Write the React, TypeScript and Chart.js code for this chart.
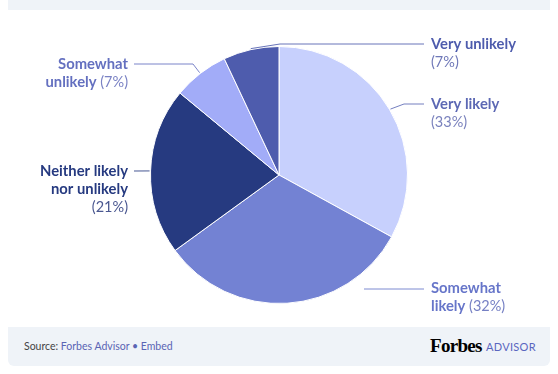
import React, { useEffect, useRef } from "react";
import { Chart, registerables } from "chart.js";

Chart.register(...registerables);

const categories = ["Very likely", "Somewhat likely", "Neither likely nor unlikely", "Somewhat unlikely", "Very unlikely"];
const values = [33, 32, 21, 7, 7];
const sliceColors = ["#c7d0fd", "#7382d3", "#263a80", "#a2acf8", "#4e5cad"];
const labelLines = [["Very likely"], ["Somewhat", "likely"], ["Neither likely", "nor unlikely"], ["Somewhat", "unlikely"], ["Very unlikely"]];
const labelColors = ["#5c68b4", "#6675c9", "#263a80", "#6470c0", "#4e5cad"];
const pctColors = ["#7a82bd", "#7680c4", "#4a5790", "#7a82c4", "#6f78b8"];

const FONT = "Lato, 'Open Sans', sans-serif";

// label layout: side, anchor x, first line y, leader line waypoints
const layout = [
  { side: "right", x: 431, y: 104, path: [[404, 104], [424, 104]], inline: false },
  { side: "right", x: 431, y: 288, path: [[364, 289], [424, 289]], inline: true, noEdge: true },
  { side: "left", x: 128, y: 171, path: [[134, 171]], inline: false },
  { side: "left", x: 128, y: 64, path: [[193, 64], [134, 64]], inline: true },
  { side: "right", x: 431, y: 44, path: [[280, 44], [424, 44]], inline: false },
];

const labelPlugin = {
  id: "pieLabels",
  afterDatasetsDraw(chart: any) {
    const ctx = chart.ctx;
    const meta = chart.getDatasetMeta(0);
    ctx.save();
    meta.data.forEach((arc: any, i: number) => {
      const L = layout[i];
      const mid = (arc.startAngle + arc.endAngle) / 2;
      const r = arc.outerRadius + 1;
      const ex = arc.x + Math.cos(mid) * r;
      const ey = arc.y + Math.sin(mid) * r;
      ctx.beginPath();
      ctx.strokeStyle = labelColors[i];
      ctx.globalAlpha = 0.85;
      ctx.lineWidth = 1;
      if (L.noEdge) {
        ctx.moveTo(L.path[0][0], L.path[0][1]);
      } else {
        ctx.moveTo(ex, ey);
      }
      L.path.forEach((p) => ctx.lineTo(p[0], p[1]));
      ctx.stroke();
      ctx.globalAlpha = 1;
      ctx.textBaseline = "middle";
      const lines = labelLines[i];
      const pct = "(" + values[i] + "%)";
      const bold = "bold 14.8px " + FONT;
      const reg = "14.5px " + FONT;
      const lh = 18;
      ctx.textAlign = "left";
      lines.forEach((t, k) => {
        const y = L.y + k * lh;
        const isLast = k === lines.length - 1;
        ctx.font = bold;
        const w = ctx.measureText(t).width;
        let total = w;
        let pw = 0;
        if (isLast && L.inline) {
          ctx.font = reg;
          pw = ctx.measureText(" " + pct).width;
          total += pw;
        }
        const x0 = L.side === "right" ? L.x : L.x - total;
        ctx.font = bold;
        ctx.fillStyle = labelColors[i];
        ctx.fillText(t, x0, y);
        if (isLast && L.inline) {
          ctx.font = reg;
          ctx.fillStyle = pctColors[i];
          ctx.fillText(" " + pct, x0 + w, y);
        }
      });
      if (!L.inline) {
        ctx.font = reg;
        ctx.fillStyle = pctColors[i];
        const y = L.y + lines.length * lh;
        const w = ctx.measureText(pct).width;
        const x0 = L.side === "right" ? L.x : L.x - w;
        ctx.fillText(pct, x0, y);
      }
    });
    ctx.restore();
  },
};

export default function App() {
  const ref = useRef<HTMLCanvasElement>(null);
  useEffect(() => {
    if (!ref.current) return;
    const chart = new Chart(ref.current, {
      type: "pie",
      data: {
        labels: categories,
        datasets: [
          {
            data: values,
            backgroundColor: sliceColors,
            borderColor: "#ffffff",
            borderWidth: 1,
          },
        ],
      },
      options: {
        responsive: false,
        animation: false,
        layout: { padding: { left: 150, right: 150, top: 46, bottom: 70 } },
        plugins: { legend: { display: false }, tooltip: { enabled: false } },
      },
      plugins: [labelPlugin],
    });
    return () => chart.destroy();
  }, []);

  return (
    <div style={{ position: "fixed", left: 0, top: 0, width: 558, height: 374, background: "#fff", overflow: "hidden" }}>
      <div style={{ position: "absolute", left: 8, top: 0, width: 542, height: 10, background: "#eff3f8" }} />
      <div
        style={{
          position: "absolute",
          left: 8,
          top: 327,
          width: 542,
          height: 39,
          background: "#eff3f8",
          borderRadius: "0 0 6px 6px",
        }}
      />
      <div
        style={{
          position: "absolute",
          left: 24,
          top: 339,
          fontFamily: FONT,
          fontSize: 10.5,
          color: "#444",
          lineHeight: "14px",
        }}
      >
        Source: <span style={{ color: "#5a64b4" }}>Forbes Advisor • Embed</span>
      </div>
      <div
        style={{
          position: "absolute",
          left: 430,
          top: 335,
          fontFamily: "'Liberation Serif', serif",
          fontWeight: "bold",
          fontSize: 19,
          color: "#000",
          letterSpacing: -0.7,
          lineHeight: "22px",
        }}
      >
        Forbes
      </div>
      <div
        style={{
          position: "absolute",
          left: 486,
          top: 340,
          fontFamily: FONT,
          fontSize: 11,
          color: "#5a66c0",
          letterSpacing: 0.3,
          lineHeight: "14px",
        }}
      >
        ADVISOR
      </div>
      <canvas ref={ref} width={558} height={374} style={{ position: "absolute", left: 0, top: 0, width: 558, height: 374 }} />
    </div>
  );
}
